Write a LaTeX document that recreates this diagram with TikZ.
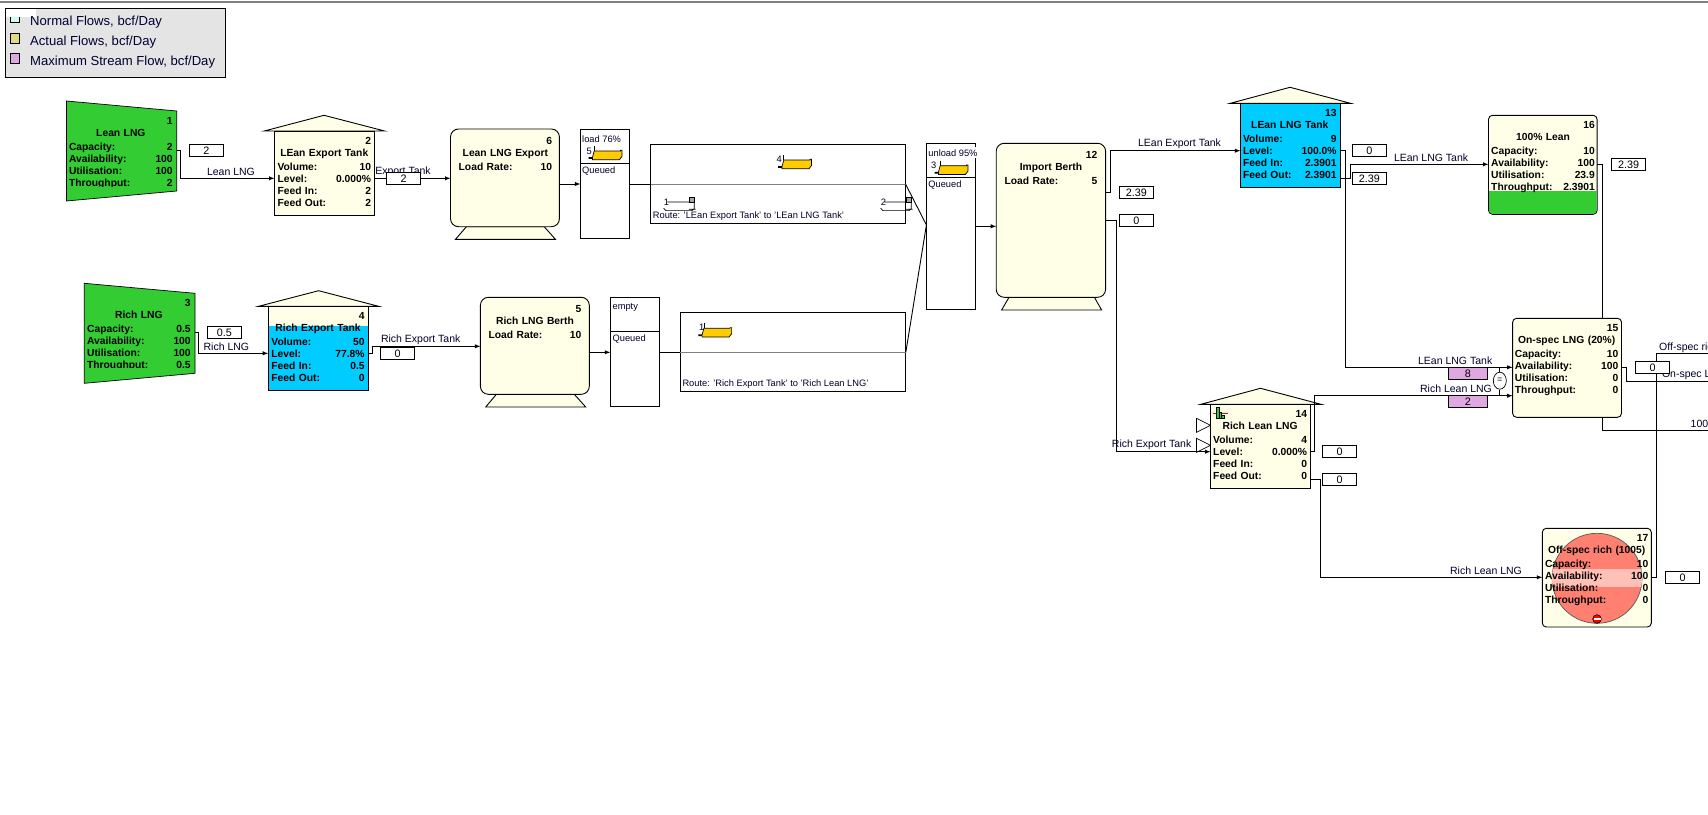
\documentclass[tikz,border=0pt]{standalone}
\usepackage{fontspec}
\setmainfont{Liberation Sans}
\usepackage{xcolor}
\usetikzlibrary{shapes.geometric}
\definecolor{cream}{HTML}{FFFFE8}
\definecolor{tankblue}{HTML}{00CCFF}
\definecolor{srcgreen}{HTML}{33CC33}
\definecolor{salmon}{HTML}{FF8070}
\definecolor{salmonlt}{HTML}{FFC0B8}
\definecolor{pinkbox}{HTML}{E0A8E0}
\definecolor{shipyel}{HTML}{FFCC00}
\definecolor{lgdgray}{HTML}{E4E4E4}
\tikzset{
	blk/.style={draw, line width=0.9pt, fill=cream, inner sep=0pt, outer sep=0pt, anchor=north west},
	plain/.style={blk, fill=white},
	rows/.style={anchor=north west, inner sep=0pt, outer sep=0pt, align=left,
		font=\fontsize{10.3}{12}\selectfont\bfseries},
	val/.style={draw, line width=0.9pt, fill=white, inner sep=0pt, minimum width=34pt, minimum height=12.2pt,
		font=\fontsize{10.8}{12}\selectfont},
	pval/.style={val, fill=pinkbox, minimum width=39.2pt, minimum height=11.6pt},
	lbl/.style={inner sep=0pt, font=\fontsize{10.5}{12}\selectfont, text=black!85!blue},
	qtxt/.style={inner sep=0pt, anchor=west, font=\fontsize{9.3}{11}\selectfont, text=black!85!blue},
	swatch/.style={draw, inner sep=0pt, minimum size=9.4pt, anchor=north west},
	lgd/.style={inner sep=0pt, anchor=west, font=\fontsize{13.1}{15}\selectfont, text=black!80!blue},
	conn/.style={line width=0.9pt},
	flow/.style={conn, ->},
	hull/.style={line width=0.7pt},
}
\newcommand{\numr}[1]{\leavevmode\hfill #1\\}
\newcommand{\ttl}[1]{\leavevmode\hfill #1\hfill\hbox{}\\[2.2pt]}
\newcommand{\rw}[2]{#1\hfill #2\\}
\newcommand{\srcrows}[4]{\rw{Capacity:}{#1}\rw{Availability:}{#2}\rw{Utilisation:}{#3}\rw{Throughput:}{#4}}
\newcommand{\tankrows}[4]{\rw{Volume:}{#1}\rw{Level:}{#2}\rw{Feed In:}{#3}\rw{Feed Out:}{#4}}
\newcommand{\shipfull}[2]{
	\draw[hull, shift={(#1,#2)}] (5.8,0) -- (5.8,5);
	\draw[hull, fill=shipyel, shift={(#1,#2)}] (5.8,5) -- (32,5) -- (32,4.3) -- (33.5,4.3) -- (33.5,10.5) -- (31,13.7) -- (4,13.7) -- (4,12.5) -- (0.5,12.5) -- (0.5,11.5) -- (4,11.5) -- cycle;
}
\newcommand{\shipempty}[2]{
	\draw[hull, fill=gray!70, shift={(#1,#2)}] (26.5,0) rectangle (31,5);
	\draw[hull, shift={(#1,#2)}] (4.5,4.7) -- (26.5,4.7) (31.3,5) -- (31.3,11.5) -- (29,13.3) -- (3,13.3) -- (0.7,11) (26,12) -- (32.7,12);
}
\begin{document}
\begin{tikzpicture}[x=1pt, y=-1pt, >=latex]
	\useasboundingbox (0,0) rectangle (1708,814);
	\draw[gray, line width=1.8pt] (0,1.8) -- (1708,1.8);
	\node[blk, fill=lgdgray, minimum width=220.2pt, minimum height=69.4pt] at (5.5,8.3) (legend) {};
	\node[swatch, fill=green!30!cyan!20] at (10,13) (swnormal) {};
	\node[swatch, fill=yellow!60!gray!70] at (10,33.3) (swactual) {};
	\node[swatch, fill=pinkbox] at (10,53.3) (swmax) {};
	\fill[white] (6,9) rectangle (36,16.7);
	\node[lgd] at (30,22) (txnormal) {Normal Flows, bcf/Day};
	\node[lgd] at (30,41.8) (txactual) {Actual Flows, bcf/Day};
	\node[lgd] at (30,62) (txmax) {Maximum Stream Flow, bcf/Day};
	\fill[srcgreen, draw=black, line width=0.7pt] (66.5,101) -- (176.7,111) -- (176.7,191) -- (66.5,201) -- cycle;
	\node[inner sep=0pt, outer sep=0pt, anchor=north west, minimum width=110.2pt, minimum height=100pt] at (66.5,101) (srca) {};
	\fill[srcgreen, draw=black, line width=0.7pt] (84.3,283.3) -- (195,293.3) -- (195,373.3) -- (84.3,383.3) -- cycle;
	\node[inner sep=0pt, outer sep=0pt, anchor=north west, minimum width=110.7pt, minimum height=100pt] at (84.3,283.3) (srcb) {};
	\begin{scope}
		\clip (66,100) rectangle (177,186.5);
		\node[rows, text width=103.7pt] at (69,117.3) (srcatxt) {\numr{1}\ttl{Lean LNG}\srcrows{2}{100}{100}{2}};
	\end{scope}
	\begin{scope}
		\clip (84,283) rectangle (195,367.8);
		\node[rows, text width=103.6pt] at (87.1,299) (srcbtxt) {\numr{3}\ttl{Rich LNG}\srcrows{0.5}{100}{100}{0.5}};
	\end{scope}
	\draw[blk] (264.3,131) -- (324,115.3) -- (384.6,131) -- cycle;
	\node[blk, minimum width=100.3pt, minimum height=84.3pt] at (274.5,131) (tanka) {};
	\draw[blk] (258.6,306.3) -- (318.6,290.7) -- (378.6,306.3) -- cycle;
	\node[blk, minimum width=100pt, minimum height=84pt] at (268.2,306.3) (tankb) {};
	\fill[tankblue] (268.7,325.7) rectangle (367.7,389.8);
	\draw[blk] (1230.3,103.3) -- (1290,87.3) -- (1350.5,103.3) -- cycle;
	\node[blk, fill=tankblue, minimum width=100.4pt, minimum height=84pt] at (1240.4,103.3) (tankc) {};
	\draw[line width=0.7pt, fill=white] (1196.5,418.3) -- (1210.5,425.3) -- (1196.5,432.3) -- cycle;
	\draw[line width=0.7pt, fill=white] (1196.5,438.3) -- (1210.5,445.3) -- (1196.5,452.3) -- cycle;
	\draw[blk] (1200.8,404.3) -- (1260.5,388.3) -- (1321,404.3) -- cycle;
	\node[blk, minimum width=100pt, minimum height=84pt] at (1210.5,404.3) (tankd) {};
	\draw[red, line width=0.6pt] (1213,413.3) -- (1228,413.3);
	\draw[line width=0.5pt, fill=srcgreen] (1216.5,407.7) rectangle (1219,418.7) (1219,412) rectangle (1221.5,418.7) (1221.5,415) rectangle (1224,418.7);
	\draw[blk] (455.5,239.3) -- (466.4,226.7) -- (544.2,226.7) -- (555.4,239.3) -- cycle;
	\node[blk, rounded corners=8pt, minimum width=108.9pt, minimum height=97.7pt] at (450.5,129) (bertha) {};
	\draw[blk] (485.7,407) -- (496.4,394.3) -- (574.3,394.3) -- (585.7,407) -- cycle;
	\node[blk, rounded corners=8pt, minimum width=108.9pt, minimum height=97pt] at (480.4,297.3) (berthb) {};
	\draw[blk] (1001.6,310) -- (1009,297.3) -- (1094.4,297.3) -- (1101.6,310) -- cycle;
	\node[blk, rounded corners=8pt, minimum width=109.4pt, minimum height=154pt] at (996.2,143.3) (berthc) {};
	\node[blk, rounded corners=4pt, minimum width=108.6pt, minimum height=99pt] at (1488.5,115.3) (outl) {};
	\fill[srcgreen] (1489,191) -- (1596.6,191) {[rounded corners=3.5pt] -- (1596.6,213.8) -- (1489,213.8)} -- cycle;
	\node[blk, rounded corners=4pt, minimum width=108.9pt, minimum height=99pt] at (1512.6,318.3) (onspec) {};
	\node[blk, rounded corners=4pt, minimum width=109pt, minimum height=98.7pt] at (1542.3,528.3) (offspec) {};
	\draw[line width=0.7pt, draw=gray!70!black, fill=salmon] (1597,578.3) circle [radius=45pt];
	\begin{scope}
		\clip (1597,578.3) circle [radius=45pt];
		\fill[salmonlt] (1550,569) rectangle (1644,587);
	\end{scope}
	\draw[line width=0.6pt, fill=red] (1597,619) circle [radius=4.3pt];
	\fill[white] (1593.5,618) rectangle (1600.5,620);
	\node[plain, minimum width=49pt, minimum height=109pt] at (580.4,129.3) (qa) {};
	\node[plain, minimum width=255.2pt, minimum height=79pt] at (650.5,144.3) (rta) {};
	\node[plain, minimum width=49.1pt, minimum height=166pt] at (926.4,143.3) (qb) {};
	\node[plain, minimum width=48.9pt, minimum height=109pt] at (610.3,297.3) (qc) {};
	\node[plain, minimum width=225.6pt, minimum height=79pt] at (680.2,312.3) (rtb) {};
	\draw[conn] (qa.west |- 0,163.3) -- (qa.east |- 0,163.3);
	\draw[conn] (qb.west |- 0,177.3) -- (qb.east |- 0,177.3);
	\draw[conn] (qc.west |- 0,331.3) -- (qc.east |- 0,331.3);
	\draw[conn, gray] (rta.west |- 0,184.3) -- (rta.east |- 0,184.3);
	\draw[conn, gray] (rtb.west |- 0,352.3) -- (rtb.east |- 0,352.3);
	\shipfull{588.4}{146}
	\shipfull{778}{155}
	\shipfull{934.4}{160.7}
	\shipfull{698.1}{323.3}
	\shipempty{662.9}{197.3}
	\shipempty{879.9}{197.3}
	\node[qtxt] at (582,138.7) (qatop) {load 76\%};
	\node[qtxt] at (582,170.7) (qalow) {Queued};
	\node[qtxt] at (586.5,151) (shipa) {5};
	\node[qtxt] at (776.5,159.5) (shipb) {4};
	\node[qtxt] at (663.6,202) (shipc) {1};
	\node[qtxt] at (880.6,202) (shipd) {2};
	\node[qtxt] at (652.7,215.7) (rtatxt) {Route: 'LEan Export Tank' to 'LEan LNG Tank'};
	\node[qtxt, fill=white, inner ysep=2pt] at (928.2,152.7) (qbtop) {unload 95\%};
	\node[qtxt] at (928.2,184.7) (qblow) {Queued};
	\node[qtxt] at (931,165) (shipe) {3};
	\node[qtxt] at (612.4,307.3) (qctop) {empty};
	\node[qtxt] at (612.4,338.7) (qclow) {Queued};
	\node[qtxt] at (699,327.5) (shipf) {1};
	\node[qtxt] at (682.3,383.7) (rtbtxt) {Route: 'Rich Export Tank' to 'Rich Lean LNG'};
	\coordinate (rima) at (1708,353.3);
	\coordinate (rimb) at (1708,381.7);
	\coordinate (rimc) at (1708,430.3);
	\draw[flow] (srca.east |- 0,150) -- ++(4,0) |- (tanka.west |- 0,178.3);
	\draw[flow] (tanka.east |- 0,178.3) -- (bertha.west |- 0,178.3);
	\draw[flow] (bertha.east |- 0,184) -- (qa.west |- 0,184);
	\draw[conn] (qa.east |- 0,184.3) -- (rta.west |- 0,184.3);
	\draw[conn] (rta.east |- 0,184.3) -- (qb.west |- 0,225);
	\draw[conn] (rtb.east |- 0,352.3) -- (qb.west |- 0,225);
	\draw[flow] (qb.east |- 0,226.3) -- (berthc.west |- 0,226.3);
	\draw[flow] (srcb.east |- 0,332.3) -- ++(3.2,0) |- (tankb.west |- 0,353.3);
	\draw[flow] (tankb.east |- 0,353.3) -- ++(4.3,0) |- (berthb.west |- 0,346.3);
	\draw[flow] (berthb.east |- 0,352.3) -- (qc.west |- 0,352.3);
	\draw[conn] (qc.east |- 0,352.3) -- (rtb.west |- 0,352.3);
	\draw[flow] (berthc.east |- 0,192.7) -- ++(5,0) |- (tankc.west |- 0,150.7);
	\draw[flow] (berthc.east |- 0,220.7) -- ++(11,0) |- (tankd.west |- 0,451.7);
	\draw[flow] (tankc.east |- 0,150.7) -- ++(4.2,0) |- (onspec.west |- 0,367.3);
	\draw[flow] (tankc.east |- 0,178.7) -- ++(9.7,0) |- (outl.west |- 0,164.3);
	\draw[conn] (outl.east |- 0,164.3) -| ([xshift=35.45pt]onspec.north);
	\draw[flow] (tankd.east |- 0,451.7) -- ++(3.9,0) |- (onspec.west |- 0,395.7);
	\draw[flow] (tankd.east |- 0,479.7) -- ++(9.7,0) |- (offspec.west |- 0,577.3);
	\draw[conn] (offspec.east |- 0,577.3) -- ++(5.3,0) |- (rima);
	\draw[conn] (onspec.east |- 0,367.3) -- ++(4.7,0) |- (rimb);
	\draw[conn] ([xshift=35.45pt]onspec.south) |- (rimc);
	\node[ellipse, draw, line width=0.7pt, fill=white, inner sep=0pt, minimum width=13pt, minimum height=17pt, font=\fontsize{9}{10}\selectfont] at (1499.8,380.7) (eqflow) {=};
	\draw[line width=0.7pt] (eqflow.north) -- (eqflow.north |- 0,367.3);
	\draw[line width=0.7pt] (eqflow.south) -- (eqflow.south |- 0,395.7);
	\node[rows, text width=93.5pt] at (277.5,137) (tankatxt) {\numr{2}\ttl{LEan Export Tank}\tankrows{10}{0.000\%}{2}{2}};
	\node[rows, text width=93.2pt] at (271.4,312.3) (tankbtxt) {\numr{4}\ttl{Rich Export Tank}\tankrows{50}{77.8\%}{0.5}{0}};
	\node[rows, text width=93.5pt] at (1243,109) (tankctxt) {\numr{13}\ttl{LEan LNG Tank}\tankrows{9}{100.0\%}{2.3901}{2.3901}};
	\node[rows, text width=93.8pt] at (1213.2,410.3) (tankdtxt) {\numr{14}\ttl{Rich Lean LNG}\tankrows{4}{0.000\%}{0}{0}};
	\node[rows, text width=93.3pt] at (458.7,137) (berthatxt) {\numr{6}\ttl{Lean LNG Export}\rw{Load Rate:}{10}};
	\node[rows, text width=92.8pt] at (488.6,305) (berthbtxt) {\numr{5}\ttl{Rich LNG Berth}\rw{Load Rate:}{10}};
	\node[rows, text width=92.7pt] at (1004.6,151) (berthctxt) {\numr{12}\ttl{Import Berth}\rw{Load Rate:}{5}};
	\node[rows, text width=103.6pt] at (1491.2,121) (outltxt) {\numr{16}\ttl{100\% Lean}\srcrows{10}{100}{23.9}{2.3901}};
	\node[rows, text width=103.5pt] at (1514.9,324.3) (onspectxt) {\numr{15}\ttl{On-spec LNG (20\%)}\srcrows{10}{100}{0}{0}};
	\node[rows, text width=103.3pt] at (1545,534) (offspectxt) {\numr{17}\ttl{Off-spec rich (1005)}\srcrows{10}{100}{0}{0}};
	\node[lbl] at (231,171.7) (lbla) {Lean LNG};
	\node[lbl] at (403,171.7) (lblb) {Export Tank};
	\node[lbl] at (226.4,346.7) (lblc) {Rich LNG};
	\node[lbl] at (420.7,339.7) (lbld) {Rich Export Tank};
	\node[lbl] at (1179.5,143.7) (lble) {LEan Export Tank};
	\node[lbl] at (1151.6,444.3) (lblf) {Rich Export Tank};
	\node[lbl] at (1431.1,157.3) (lblg) {LEan LNG Tank};
	\node[lbl] at (1455.2,360.3) (lblh) {LEan LNG Tank};
	\node[lbl] at (1456,388.7) (lbli) {Rich Lean LNG};
	\node[lbl] at (1486,570.7) (lblj) {Rich Lean LNG};
	\node[lbl, anchor=west] at (1659,347.3) (lblk) {Off-spec ric};
	\node[lbl, anchor=west] at (1661.8,375) (lbll) {On-spec L};
	\node[lbl, anchor=west] at (1690.5,423.7) (lblm) {100};
	\node[val] at (206.5,150.5) (vala) {2};
	\node[val] at (403.6,178.3) (valb) {2};
	\node[val] at (224.4,332.5) (valc) {0.5};
	\node[val] at (397.6,353.3) (vald) {0};
	\node[val] at (1136.4,192.7) (vale) {2.39};
	\node[val] at (1136.4,220.7) (valf) {0};
	\node[val] at (1369.4,150.7) (valg) {0};
	\node[val] at (1369.4,178.5) (valh) {2.39};
	\node[val] at (1628.5,164.3) (vali) {2.39};
	\node[val] at (1652.5,367.3) (valj) {0};
	\node[val] at (1339.6,451.5) (valk) {0};
	\node[val] at (1339.6,479.5) (vall) {0};
	\node[val] at (1682.5,577.3) (valm) {0};
	\node[pval] at (1467.8,373.5) (pvala) {8};
	\node[pval] at (1467.8,401.5) (pvalb) {2};
\end{tikzpicture}
\end{document}
